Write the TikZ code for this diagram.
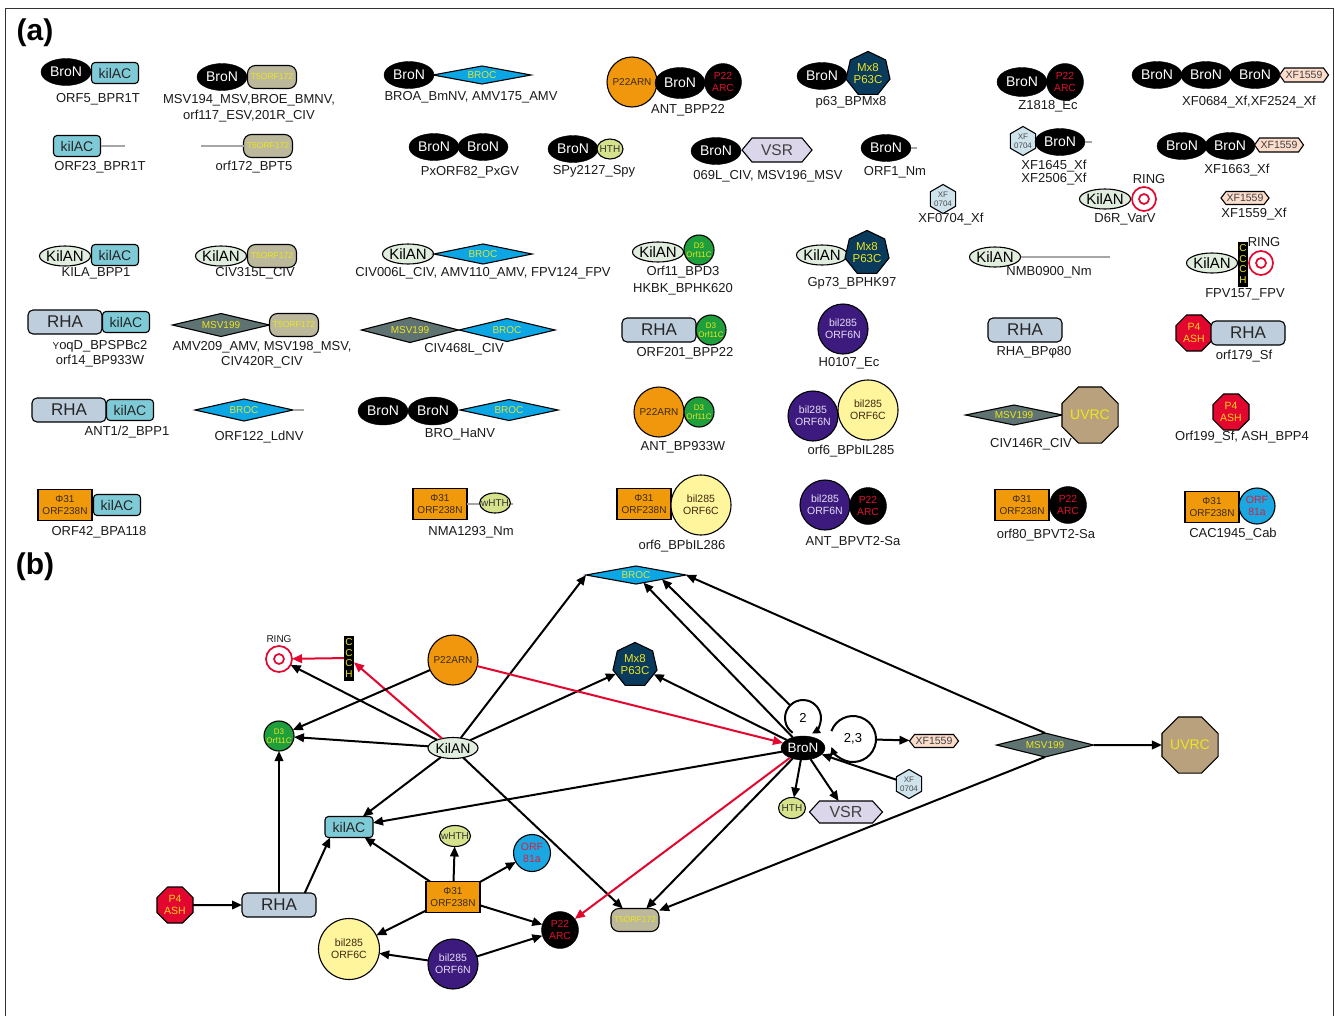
\documentclass[tikz,border=0pt]{standalone}
\usepackage{fontspec}
\setmainfont{Liberation Sans}
\usetikzlibrary{shapes.geometric,arrows.meta,calc}
\newcommand\myfs[2]{\fontsize{#1}{#2}\selectfont}
\definecolor{txtC}{HTML}{1A1A1A}
\definecolor{kilacC}{HTML}{7FCAD7}
\definecolor{t5C}{HTML}{BCB89B}
\definecolor{yelT}{HTML}{EDE51E}
\definecolor{brocC}{HTML}{0BA6E3}
\definecolor{brocT}{HTML}{DDE53A}
\definecolor{kilanC}{HTML}{E1EDDE}
\definecolor{rhaC}{HTML}{BFCEDC}
\definecolor{msvC}{HTML}{5F7472}
\definecolor{orangeC}{HTML}{F0970D}
\definecolor{darkT}{HTML}{3A2A10}
\definecolor{arcT}{HTML}{E2102E}
\definecolor{mx8C}{HTML}{0A3A5C}
\definecolor{d3C}{HTML}{1E9F3C}
\definecolor{n6C}{HTML}{3D1A7E}
\definecolor{n6T}{HTML}{E6DDF5}
\definecolor{c6C}{HTML}{FFF59D}
\definecolor{xfC}{HTML}{FCDCCB}
\definecolor{xf07C}{HTML}{CFE3EC}
\definecolor{hthC}{HTML}{D7E28C}
\definecolor{vsrC}{HTML}{DCD6EA}
\definecolor{uvrcC}{HTML}{B9A17D}
\definecolor{p4C}{HTML}{E3072F}
\definecolor{p4T}{HTML}{FFD21E}
\definecolor{phiC}{HTML}{F09A0B}
\definecolor{orf81C}{HTML}{1BA7E1}
\definecolor{orf81T}{HTML}{D8203C}
\definecolor{ringC}{HTML}{E3062E}
\tikzset{
 base/.style={inner sep=0pt, outer sep=0pt, align=center},
 lw/.style={line width=1.1pt},
 lbl/.style={base, text=txtC, font=\myfs{13}{15}},
 bron/.style={base, ellipse, fill=black, draw=black, text=white, minimum width=50pt, minimum height=27pt, font=\myfs{14}{16}},
 kilan/.style={base, ellipse, draw=black, lw, fill=kilanC, text=black, minimum width=51pt, minimum height=20pt, inner sep=-1pt, font=\myfs{15}{16}},
 kilac/.style={base, rectangle, rounded corners=3.5pt, draw=black, lw, fill=kilacC, text=black!85, minimum width=47pt, minimum height=21pt, font=\myfs{14}{16}},
 t5/.style={base, rectangle, rounded corners=8pt, draw=black, lw, fill=t5C, text=yelT, minimum width=49pt, minimum height=23pt, font=\myfs{8.5}{9}},
 broc/.style={base, diamond, aspect=6, draw=black, lw, fill=brocC, text=brocT, minimum width=98pt, minimum height=20pt, font=\myfs{10}{11}},
 msv/.style={base, diamond, aspect=6, draw=black, lw, fill=msvC, text=yelT, minimum width=97pt, minimum height=23pt, font=\myfs{10}{11}},
 rha/.style={base, rectangle, rounded corners=5pt, draw=black, lw, fill=rhaC, text=black!85, minimum width=74pt, minimum height=24pt, font=\myfs{17}{18}},
 p22arn/.style={base, circle, draw=black, lw, fill=orangeC, text=darkT, minimum size=50pt, font=\myfs{10}{11}},
 arcn/.style={base, circle, fill=black, draw=black, text=arcT, minimum size=37pt, font=\myfs{10.3}{11.5}},
 mxe/.style={base, regular polygon, regular polygon sides=7, draw=black, lw, fill=mx8C, text=yelT, minimum size=44pt, font=\myfs{11.5}{12}},
 dthree/.style={base, circle, draw=black, lw, fill=d3C, text=yelT, minimum size=30pt, font=\myfs{8}{9}},
 nsix/.style={base, circle, draw=black, lw, fill=n6C, text=n6T, minimum size=50pt, font=\myfs{10.5}{12}},
 csix/.style={base, circle, draw=black, lw, fill=c6C, text=darkT, minimum size=60pt, font=\myfs{10.5}{12}},
 xfs/.style={base, regular polygon, regular polygon sides=6, shape border rotate=30, draw=black, lw, fill=xf07C, text=black!70, minimum size=28pt, font=\myfs{8}{9}},
 hth/.style={base, ellipse, draw=black, lw, fill=hthC, text=black!80, minimum width=26pt, minimum height=20pt, inner sep=-1.5pt, font=\myfs{10}{11}},
 uvrc/.style={base, regular polygon, regular polygon sides=8, draw=black, lw, fill=uvrcC, text=yelT, minimum size=57pt, font=\myfs{14}{15}},
 pfour/.style={base, regular polygon, regular polygon sides=8, draw=black, lw, fill=p4C, text=p4T, minimum size=39pt, font=\myfs{10.5}{11.5}},
 phi/.style={base, rectangle, draw=black, lw, fill=phiC, text=darkT, minimum width=54pt, minimum height=31pt, font=\myfs{10}{12}},
 orfe/.style={base, circle, draw=black, lw, fill=orf81C, text=orf81T, minimum size=36pt, font=\myfs{10.5}{12}},
 ccch/.style={base, rectangle, fill=black, text=yelT, minimum width=10pt, minimum height=45pt, font=\myfs{10}{10.8}},
 ringn/.style={base, circle, draw=ringC, line width=1.7pt, minimum size=24pt},
 gline/.style={draw=black!35, line width=1.3pt},
 conn/.style={draw=black, line width=2pt, -{Triangle[length=10pt,width=8.5pt]}},
 rconn/.style={conn, draw=ringC},
}
% elongated hexagon: name, x, y, half width, half height, inset, fill, text
\newcommand\elhex[8]{%
  \draw[line width=1.1pt, fill=#7] (#2-#4,#3) -- (#2-#4+#6,#3-#5) -- (#2+#4-#6,#3-#5) -- (#2+#4,#3) -- (#2+#4-#6,#3+#5) -- (#2-#4+#6,#3+#5) -- cycle;
  \node[base, rectangle, text=black!75, minimum width=#4*2pt, minimum height=#5*2pt] (#1) at (#2,#3) {#8};
}
\begin{document}
\begin{tikzpicture}[x=1pt, y=-1pt]
\useasboundingbox (0,0) rectangle (1335,1015);
\fill[white] (0,0) rectangle (1335,1015);
\draw[line width=0.8pt, black!80] (5.5,1030) -- (5.5,8) -- (1333.5,8) -- (1333.5,1030);

\node[base, font=\myfs{30}{32}\bfseries, text=black] (ha) at (35,33) {(a)};
\node[base, font=\myfs{30}{32}\bfseries, text=black] (hb) at (35,567) {(b)};

% ---------- (a) row 1
\node[bron] (a1) at (66,72) {BroN};
\node[kilac] (a2) at (115,73) {kilAC};
\node[lbl] (l1) at (98,99) {ORF5\_BPR1T};

\node[bron] (a3) at (222,77) {BroN};
\node[t5] (a4) at (272,77) {T5ORF172};
\node[lbl, font=\myfs{13}{16}] (l2) at (249,108) {MSV194\_MSV,BROE\_BMNV,\\orf117\_ESV,201R\_CIV};

\node[bron] (a5) at (409,75) {BroN};
\node[broc, minimum height=18pt] (a6) at (482,75) {BROC};
\node[lbl] (l3) at (471,97) {BROA\_BmNV, AMV175\_AMV};

\node[p22arn] (a7) at (632,82) {P22ARN};
\node[bron, minimum height=31pt] (a8) at (680,83) {BroN};
\node[arcn] (a9) at (723,82) {P22\\ARC};
\node[lbl] (l4) at (688,110) {ANT\_BPP22};

\node[bron] (a10) at (822,76) {BroN};
\node[mxe] (a11) at (868,74) {Mx8\\P63C};
\node[lbl] (l5) at (851,102) {p63\_BPMx8};

\node[bron, minimum height=29pt] (a12) at (1022,82) {BroN};
\node[arcn] (a13) at (1065,82) {P22\\ARC};
\node[lbl] (l6) at (1048,106) {Z1818\_Ec};

\node[bron] (a14) at (1157,75) {BroN};
\node[bron] (a15) at (1206,75) {BroN};
\node[bron] (a16) at (1255,75) {BroN};
\elhex{a17}{1304}{75}{24.5}{7}{5}{xfC}{\myfs{10.5}{11}XF1559}
\node[lbl] (l7) at (1249,102) {XF0684\_Xf,XF2524\_Xf};

% ---------- row 2
\node[kilac] (a18) at (77,146) {kilAC};
\coordinate (g1) at (125,146);
\draw[gline] (a18.east) -- (g1);
\node[lbl] (l8) at (100,167) {ORF23\_BPR1T};

\coordinate (g2) at (201,146);
\node[t5] (a19) at (268,146) {T5ORF172};
\draw[gline] (g2) -- (a19.west);
\node[lbl] (l9) at (254,167) {orf172\_BPT5};

\node[bron] (a20) at (434,147) {BroN};
\node[bron] (a21) at (483,147) {BroN};
\node[lbl] (l10) at (470,172) {PxORF82\_PxGV};

\node[bron] (a22) at (573,149) {BroN};
\node[hth] (a23) at (610,149) {HTH};
\node[lbl] (l11) at (594,171) {SPy2127\_Spy};

\node[bron] (a24) at (716,151) {BroN};
\elhex{a25}{777}{150}{35}{12}{10}{vsrC}{\myfs{15.5}{16}VSR}
\node[lbl] (l12) at (768,176) {069L\_CIV, MSV196\_MSV};

\node[bron] (a26) at (886,148) {BroN};
\coordinate (g3) at (917,148);
\draw[gline] (a26.east) -- (g3);
\node[lbl] (l13) at (895,172) {ORF1\_Nm};

\node[xfs] (a27) at (943,199) {XF\\0704};
\node[lbl] (l14) at (951,219) {XF0704\_Xf};

\node[xfs] (a28) at (1023,141) {XF\\0704};
\node[bron] (a29) at (1060,142) {BroN};
\coordinate (g4) at (1092,142);
\draw[gline] (a29.east) -- (g4);
\node[lbl, font=\myfs{13}{13.5}] (l15) at (1054,172.5) {XF1645\_Xf\\XF2506\_Xf};

\node[bron] (a30) at (1182,146) {BroN};
\node[bron] (a31) at (1230,146) {BroN};
\elhex{a32}{1279}{145}{24.5}{7}{5}{xfC}{\myfs{10.5}{11}XF1559}
\node[lbl] (l16) at (1237,170) {XF1663\_Xf};

\node[kilan] (a33) at (1105,199) {KilAN};
\node[ringn] (a34) at (1144,199) {};
\draw[ringC, line width=1.7pt] (a34.center) circle[radius=5pt];
\node[lbl] (l17) at (1149,179) {RING};
\node[lbl] (l18) at (1125,219) {D6R\_VarV};

\elhex{a35}{1245}{198}{24}{6.5}{5}{xfC}{\myfs{10.5}{11}XF1559}
\node[lbl] (l19) at (1254,214) {XF1559\_Xf};

% ---------- row 3
\node[kilan] (a36) at (65,256) {KilAN};
\node[kilac] (a37) at (115,255) {kilAC};
\node[lbl] (l20) at (96,273) {KILA\_BPP1};

\node[kilan] (a38) at (221,256) {KilAN};
\node[t5] (a39) at (272,256) {T5ORF172};
\node[lbl] (l21) at (255,273) {CIV315L\_CIV};

\node[kilan] (a40) at (408,254) {KilAN};
\node[broc] (a41) at (483,254) {BROC};
\node[lbl] (l22) at (483,273) {CIV006L\_CIV, AMV110\_AMV, FPV124\_FPV};

\node[kilan] (a42) at (658,252) {KilAN};
\node[dthree] (a43) at (699,250) {D3\\Orf11C};
\node[lbl, font=\myfs{13}{17}] (l23) at (683,280.5) {Orf11\_BPD3\\HKBK\_BPHK620};

\node[kilan] (a44) at (822,255) {KilAN};
\node[mxe] (a45) at (867,253) {Mx8\\P63C};
\node[lbl] (l24) at (852,283) {Gp73\_BPHK97};

\node[kilan] (a46) at (995,257) {KilAN};
\coordinate (g5) at (1110,257);
\draw[gline] (a46.east) -- (g5);
\node[lbl] (l25) at (1049,272) {NMB0900\_Nm};

\node[kilan] (a47) at (1212,263) {KilAN};
\node[ccch] (a48) at (1243,264) {C\\C\\C\\H};
\node[ringn] (a49) at (1261,263) {};
\draw[ringC, line width=1.7pt] (a49.center) circle[radius=5pt];
\node[lbl] (l26) at (1264,242) {RING};
\node[lbl] (l27) at (1245,294) {FPV157\_FPV};

% ---------- row 4
\node[rha] (a50) at (65,322) {RHA};
\node[kilac] (a51) at (126,322) {kilAC};
\node[lbl, font=\myfs{13}{15}] (l28) at (100,353.5) {{\myfs{10}{15}Y}oqD\_BPSPBc2\\orf14\_BP933W};

\node[msv] (a52) at (221,325) {MSV199};
\node[t5] (a53) at (294,325) {T5ORF172};
\node[lbl, font=\myfs{13}{15}] (l29) at (262,354.5) {AMV209\_AMV, MSV198\_MSV,\\CIV420R\_CIV};

\node[msv, minimum height=25pt] (a54) at (410,330) {MSV199};
\node[broc, minimum width=96pt, minimum height=23pt] (a55) at (507,330) {BROC};
\node[lbl] (l30) at (464,349) {CIV468L\_CIV};

\node[rha] (a56) at (659,330) {RHA};
\node[dthree] (a57) at (711,330) {D3\\Orf11C};
\node[lbl] (l31) at (685,353) {ORF201\_BPP22};

\node[nsix] (a58) at (843,329) {bil285\\ORF6N};
\node[lbl] (l32) at (849,363) {H0107\_Ec};

\node[rha] (a59) at (1025,330) {RHA};
\node[lbl] (l33) at (1034,352) {RHA\_BPφ80};

\node[pfour] (a60) at (1194,333) {P4\\ASH};
\node[rha] (a61) at (1248,333) {RHA};
\node[lbl] (l34) at (1244,356) {orf179\_Sf};

% ---------- row 5
\node[rha] (a62) at (69,410) {RHA};
\node[kilac] (a63) at (130,410) {kilAC};
\node[lbl] (l35) at (127,432) {ANT1/2\_BPP1};

\node[broc, minimum height=22pt] (a64) at (244,410) {BROC};
\coordinate (g6) at (304,410);
\draw[gline] (a64.east) -- (g6);
\node[lbl] (l36) at (259,437) {ORF122\_LdNV};

\node[bron, minimum height=28pt] (a65) at (383,411) {BroN};
\node[bron, minimum height=28pt] (a66) at (433,411) {BroN};
\node[broc, minimum height=21pt] (a67) at (509,410) {BROC};
\node[lbl] (l37) at (460,434) {BRO\_HaNV};

\node[p22arn] (a68) at (659,412) {P22ARN};
\node[dthree] (a69) at (699,412) {D3\\Orf11C};
\node[lbl] (l38) at (683,447) {ANT\_BP933W};

\node[nsix] (a70) at (813,416) {bil285\\ORF6N};
\node[csix] (a71) at (868,410) {bil285\\ORF6C};
\node[lbl] (l39) at (851,451) {orf6\_BPbIL285};

\node[msv, minimum height=20pt] (a72) at (1014,415) {MSV199};
\node[uvrc] (a73) at (1090,415) {UVRC};
\node[lbl] (l40) at (1031,444) {CIV146R\_CIV};

\node[pfour] (a74) at (1231,412) {P4\\ASH};
\node[lbl] (l41) at (1242,437) {Orf199\_Sf, ASH\_BPP4};

% ---------- row 6
\node[phi] (a75) at (65,505) {Φ31\\ORF238N};
\node[kilac] (a76) at (117,505) {kilAC};
\node[lbl] (l42) at (99,532) {ORF42\_BPA118};

\node[phi] (a77) at (440,504) {Φ31\\ORF238N};
\coordinate (g7) at (513,504);
\draw[gline] (a77.east) -- (g7);
\node[hth, inner sep=-3pt, minimum width=30pt] (a78) at (495,503) {wHTH};
\node[lbl] (l43) at (471,532) {NMA1293\_Nm};

\node[phi] (a79) at (644,504) {Φ31\\ORF238N};
\node[csix] (a80) at (701,505) {bil285\\ORF6C};
\node[lbl] (l44) at (682,546) {orf6\_BPbIL286};

\node[nsix] (a81) at (825,505) {bil285\\ORF6N};
\node[arcn] (a82) at (868,506) {P22\\ARC};
\node[lbl] (l45) at (853,542) {ANT\_BPVT2-Sa};

\node[phi] (a83) at (1022,505) {Φ31\\ORF238N};
\node[arcn] (a84) at (1068,505) {P22\\ARC};
\node[lbl] (l46) at (1046,535) {orf80\_BPVT2-Sa};

\node[phi] (a85) at (1212,507) {Φ31\\ORF238N};
\node[orfe] (a86) at (1257,506) {ORF\\81a};
\node[lbl] (l47) at (1233,534) {CAC1945\_Cab};

% ---------- (b) nodes
\node[broc, minimum width=100pt, minimum height=18pt] (bbroc) at (636,575) {BROC};
\node[ringn, minimum size=26pt] (bring) at (279,659) {};
\draw[ringC, line width=1.7pt] (bring.center) circle[radius=5pt];
\node[lbl, font=\myfs{10}{11}] (lring) at (279,639) {RING};
\node[ccch] (bccch) at (349,658) {C\\C\\C\\H};
\node[p22arn] (bp22arn) at (453,660) {P22ARN};
\node[mxe, minimum size=41pt] (bmx) at (635,665) {Mx8\\P63C};
\node[dthree] (bd3) at (279,736) {D3\\Orf11C};
\node[kilan, font=\myfs{14}{15}, minimum width=50pt, minimum height=21pt] (bkilan) at (453,748) {KilAN};
\node[bron, minimum width=44pt, minimum height=24pt, font=\myfs{13.5}{15}] (bbron) at (803,748) {BroN};
\node[base, circle, minimum size=36pt, font=\myfs{13}{14}] (bloopa) at (803,718) {2};
\node[base, circle, minimum size=46pt, font=\myfs{13}{14}] (bloopb) at (853,739) {2,3};
\elhex{bxf}{934}{741}{24.5}{6.5}{5}{xfC}{\myfs{10.5}{11}XF1559}
\node[xfs] (bxfs) at (909,784) {XF\\0704};
\node[hth, minimum width=27pt, minimum height=21pt] (bhth) at (792,808) {HTH};
\elhex{bvsr}{846}{812}{36.5}{11}{10}{vsrC}{\myfs{16}{17}VSR}
\node[msv, minimum height=24pt] (bmsv) at (1045,745) {MSV199};
\node[uvrc, minimum size=56pt] (buvrc) at (1190,745) {UVRC};
\node[kilac, minimum width=48pt] (bkilac) at (349,827) {kilAC};
\node[hth, inner sep=-3pt, minimum width=31pt, minimum height=21pt] (bwhth) at (455,836) {wHTH};
\node[orfe, minimum size=37pt] (borf) at (532,853) {ORF\\81a};
\node[pfour] (bp4) at (175,905) {P4\\ASH};
\node[rha] (brha) at (279,905) {RHA};
\node[phi] (bphi) at (453,897) {Φ31\\ORF238N};
\node[arcn] (barc) at (560,930) {P22\\ARC};
\node[t5, minimum width=48pt] (bt5) at (635,920) {T5ORF172};
\node[csix, minimum size=61pt] (bc6) at (349,949) {bil285\\ORF6C};
\node[nsix] (bn6) at (453,964) {bil285\\ORF6N};

% ---------- (b) connectors
\draw[conn] (bmsv.north) -- (bbroc.east);
\draw[conn] (bmsv) -- (buvrc);
\draw[conn] (bmsv.south) -- (bt5);
\draw[conn] (bbron) -- (bbroc);
\coordinate (bbrocx) at ($(bbroc.south)!0.52!(bbroc.east)$);
\draw[conn] (bloopa) -- (bbrocx);
\draw[conn] (bbron) -- (bmx);
\draw[conn] (bkilan) -- (bmx);
\draw[conn] (bkilan) -- (bbroc.west);
\draw[conn] (bkilan) -- (bring);
\draw[rconn] (bkilan) -- (bccch);
\draw[rconn] (bccch) -- (bring);
\draw[conn] (bkilan) -- (bd3);
\draw[conn] (bp22arn) -- (bd3);
\draw[rconn] (bp22arn) -- (bbron);
\draw[conn] (bkilan) -- (bkilac);
\draw[conn] (bkilan) -- (bt5);
\draw[conn] (bbron) -- (bkilac);
\draw[rconn] (bbron) -- (barc);
\draw[conn] (bbron) -- (bt5);
\draw[conn] (bbron) -- (bhth);
\draw[conn] (bbron) -- (bvsr);
\draw[conn] (bxfs) -- (bbron);
\draw[conn] (bloopb) -- (bxf);
\draw[conn] (brha) -- (bd3);
\draw[conn] (brha.25) -- (bkilac.209);
\draw[conn] (bp4) -- (brha);
\draw[conn] (bphi) -- (bkilac);
\draw[conn] (bphi) -- (bwhth);
\draw[conn] (bphi) -- (borf);
\draw[conn] (bphi) -- (barc);
\draw[conn] (bphi) -- (bc6);
\draw[conn] (bn6) -- (bc6);
\draw[conn] (bn6) -- (barc);
% self loops on BroN
\draw[line width=2pt, -{Triangle[length=8pt,width=7.5pt]}] ($(bloopa.center)+(235:18pt)$) arc[start angle=235, end angle=-60, radius=18pt];
\draw[line width=2pt, -{Triangle[length=8pt,width=7.5pt]}] ($(bloopb.center)+(160:23pt)$) arc[start angle=160, end angle=-160, radius=23pt];
\end{tikzpicture}
\end{document}
